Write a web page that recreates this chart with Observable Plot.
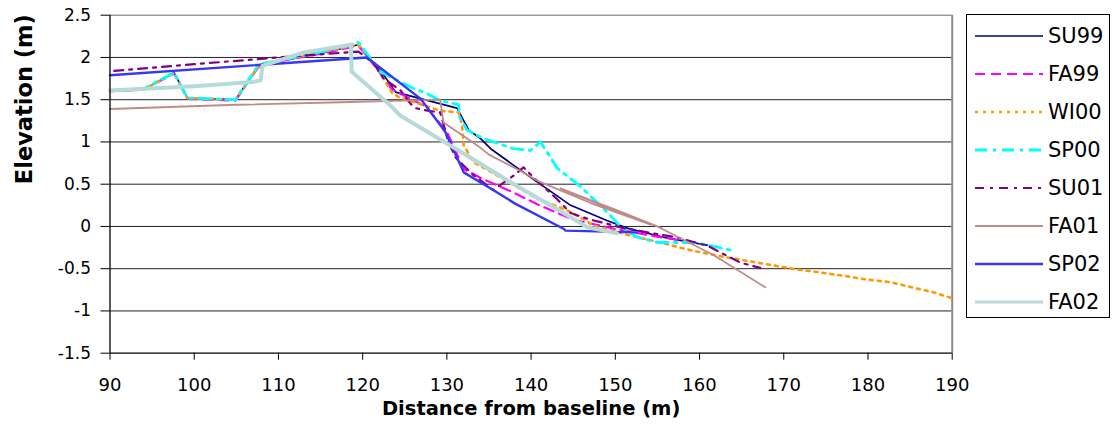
<!DOCTYPE html>
<html><head><meta charset="utf-8">
<script src="https://cdn.jsdelivr.net/npm/d3@7"></script>
<script src="https://cdn.jsdelivr.net/npm/@observablehq/plot@0.6"></script>
<style>
body{margin:0;background:#fff;}
#wrap{position:relative;width:1119px;height:435px;background:#fff;}
#legend{position:absolute;left:966px;top:14px;width:144px;height:304px;border:1px solid #000;box-sizing:border-box;background:#fff;font-family:"DejaVu Sans",sans-serif;font-size:21px;color:#000;padding-top:2px;}
.row{height:38px;display:flex;align-items:center;}
.row svg{margin-left:8px;margin-right:5px;}
</style>
</head><body>
<div id="wrap"><div id="chart"></div><div id="legend"></div></div>
<script>
// ---- data ----
const seriesNames = ["SU99","FA99","WI00","SP00","SU01","FA01","SP02","FA02"];
const xTicks = [90,100,110,120,130,140,150,160,170,180,190];
const yTicks = [-1.5,-1,-0.5,0,0.5,1,1.5,2,2.5];
const gridY = [-1,-0.5,0,0.5,1,1.5,2];

const SU99 = [[90,1.6],[94,1.62],[97.6,1.82],[99.2,1.52],[104.9,1.5],[107.5,1.88],[108.2,1.92],[111.4,1.98],[115.4,2.06],[119.5,2.15],[120.5,2.02],[122.1,1.85],[123.9,1.59],[131.2,1.4],[132.6,1.14],[134,1.04],[135.2,0.92],[139.1,0.64],[144.7,0.25],[149,0.07],[151.4,-0.02],[156.2,-0.14],[160.9,-0.22]];
const FA99 = [[90,1.6],[94,1.62],[97.6,1.81],[99.2,1.51],[104.9,1.49],[107.5,1.87],[108.2,1.92],[111.4,1.98],[115.4,2.05],[119.5,2.14],[120.8,1.98],[123.5,1.62],[127.5,1.42],[130,1.12],[132,0.68],[134.5,0.55],[137.5,0.42],[141,0.25],[145,0.08],[150,-0.03],[155,-0.12],[160,-0.2]];
const WI00 = [[90,1.6],[94,1.62],[97.6,1.82],[99.2,1.52],[104.9,1.5],[107.5,1.88],[108.2,1.93],[111.4,1.99],[115.4,2.07],[119.5,2.15],[121.3,1.94],[123.5,1.58],[124.3,1.53],[129.2,1.37],[131.4,1.35],[131.8,1.2],[132,0.96],[133.2,0.76],[137.6,0.51],[140.7,0.33],[144.3,0.19],[146.5,0.07],[147.4,0.01],[151.5,-0.1],[155.7,-0.2],[159.3,-0.29],[162.9,-0.36],[166.4,-0.42],[169.3,-0.47],[171.6,-0.51],[174,-0.54],[177.5,-0.59],[180,-0.63],[182.7,-0.66],[185.2,-0.72],[187.8,-0.78],[190,-0.85]];
const SP00 = [[90,1.61],[94,1.63],[97.6,1.82],[99.2,1.52],[104.9,1.5],[107.5,1.89],[108.2,1.93],[111.4,1.99],[115.4,2.07],[119.5,2.18],[120.9,1.99],[122.1,1.83],[125.9,1.64],[127.7,1.57],[129.2,1.49],[131.4,1.44],[131.5,1.3],[132.4,1.14],[134.4,1.04],[137.9,0.92],[139.9,0.9],[141.1,1.0],[141.9,0.88],[143.1,0.69],[145.9,0.47],[148.2,0.25],[149.6,0.11],[150.6,0.0],[152.5,-0.12],[155,-0.19],[159.3,-0.19],[161.9,-0.24],[163.7,-0.28]];
const SU01 = [[90.5,1.84],[100,1.92],[110,2.0],[119.5,2.07],[121.3,1.93],[122.5,1.75],[124.5,1.61],[125.7,1.45],[126.3,1.4],[127.7,1.37],[129.2,1.35],[129.8,1.14],[130.1,1.02],[131,0.82],[133,0.62],[135.5,0.43],[137.9,0.6],[139.1,0.7],[140.5,0.56],[143,0.33],[144.7,0.16],[146.7,0.09],[151,-0.02],[157.3,-0.13],[161,-0.23],[163.1,-0.34],[164.9,-0.43],[167.2,-0.49]];
const FA01 = [[90,1.39],[105,1.44],[117.4,1.47],[129.2,1.5],[129.6,1.23],[134,0.93],[135,0.85],[138.7,0.66],[141,0.53],[147,0.28],[154.2,0.02],[143.9,0.43],[150,0.2],[155.5,-0.02],[143.5,0.45],[155,0.0],[161.7,-0.34],[167.8,-0.72]];
const SP02 = [[90,1.79],[120.5,2.0],[126.9,1.51],[129.8,1.12],[132,0.64],[135.2,0.45],[138.1,0.27],[143.9,-0.03],[144.1,-0.05],[152.5,-0.07]];
const FA02 = [[90,1.61],[100,1.66],[107,1.71],[107.9,1.73],[108.1,1.9],[113,2.06],[118.6,2.15],[118.7,1.83],[123.3,1.43],[124.5,1.31],[131.2,0.91],[137.6,0.52],[143.5,0.18],[146.7,-0.01],[150.2,-0.08]];

const seriesData = [SU99, FA99, WI00, SP00, SU01, FA01, SP02, FA02];
const seriesStyle = [
  {stroke:"#000080", width:1.7, dash:null},
  {stroke:"#FF00FF", width:2.2, dash:"10,6"},
  {stroke:"#FF9900", width:2.6, dash:"3,5"},
  {stroke:"#00FFFF", width:2.8, dash:"12,6,3,6"},
  {stroke:"#800080", width:2.2, dash:"9,6,3,6"},
  {stroke:"#C08A8A", width:1.8, dash:null},
  {stroke:"#3636F5", width:2.4, dash:null},
  {stroke:"#B6DADA", width:4, dash:null}
];

const lineMarks = seriesData.map((d, i) => Plot.line(d, {
  x: p => p[0], y: p => p[1],
  stroke: seriesStyle[i].stroke,
  strokeWidth: seriesStyle[i].width,
  strokeDasharray: seriesStyle[i].dash,
  strokeLinejoin: "round"
}));

const fmt = d => String(d);

const chart = Plot.plot({
  width: 1119,
  height: 435,
  marginLeft: 109.5,
  marginRight: 167.3,
  marginTop: 14.7,
  marginBottom: 82.3,
  style: {fontFamily: "DejaVu Sans, sans-serif", fontSize: "17px", color: "#000", background: "#fff", overflow: "visible"},
  x: {domain: [90, 190]},
  y: {domain: [-1.5, 2.5]},
  marks: [
    Plot.ruleY(gridY, {stroke: "#222", strokeWidth: 1}),
    Plot.ruleY([2.5], {stroke: "#9a9a9a", strokeWidth: 1.5}),
    Plot.ruleX([190], {stroke: "#8a8a8a", strokeWidth: 2}),
    ...lineMarks,
    Plot.ruleX([90], {stroke: "#000", strokeWidth: 1.3}),
    Plot.ruleY([-1.5], {stroke: "#000", strokeWidth: 1.3}),
    Plot.axisY({ticks: yTicks, tickFormat: fmt, tickSize: 9, tickPadding: 10, fontSize: 17, label: null, stroke: "#000"}),
    Plot.axisX({ticks: xTicks, tickFormat: fmt, tickSize: 7, tickPadding: 18, fontSize: 18, label: null, stroke: "#000"}),
    Plot.text(["Elevation (m)"], {frameAnchor: "left", dx: -85, rotate: -90, fontSize: 22.5, fontWeight: "bold", fill: "#000"}),
    Plot.text(["Distance from baseline (m)"], {frameAnchor: "bottom", dy: 62, fontSize: 19.5, fontWeight: "bold", fill: "#000"})
  ]
});
document.getElementById("chart").appendChild(chart);

// legend
const legend = d3.select("#legend");
seriesNames.forEach((name, i) => {
  const row = legend.append("div").attr("class", "row");
  const svg = row.append("svg").attr("width", 68).attr("height", 10);
  svg.append("line").attr("x1", 0).attr("x2", 68).attr("y1", 5).attr("y2", 5)
    .attr("stroke", seriesStyle[i].stroke)
    .attr("stroke-width", Math.min(seriesStyle[i].width, 3.2))
    .attr("stroke-dasharray", seriesStyle[i].dash);
  row.append("span").text(name);
});
</script>
</body></html>
